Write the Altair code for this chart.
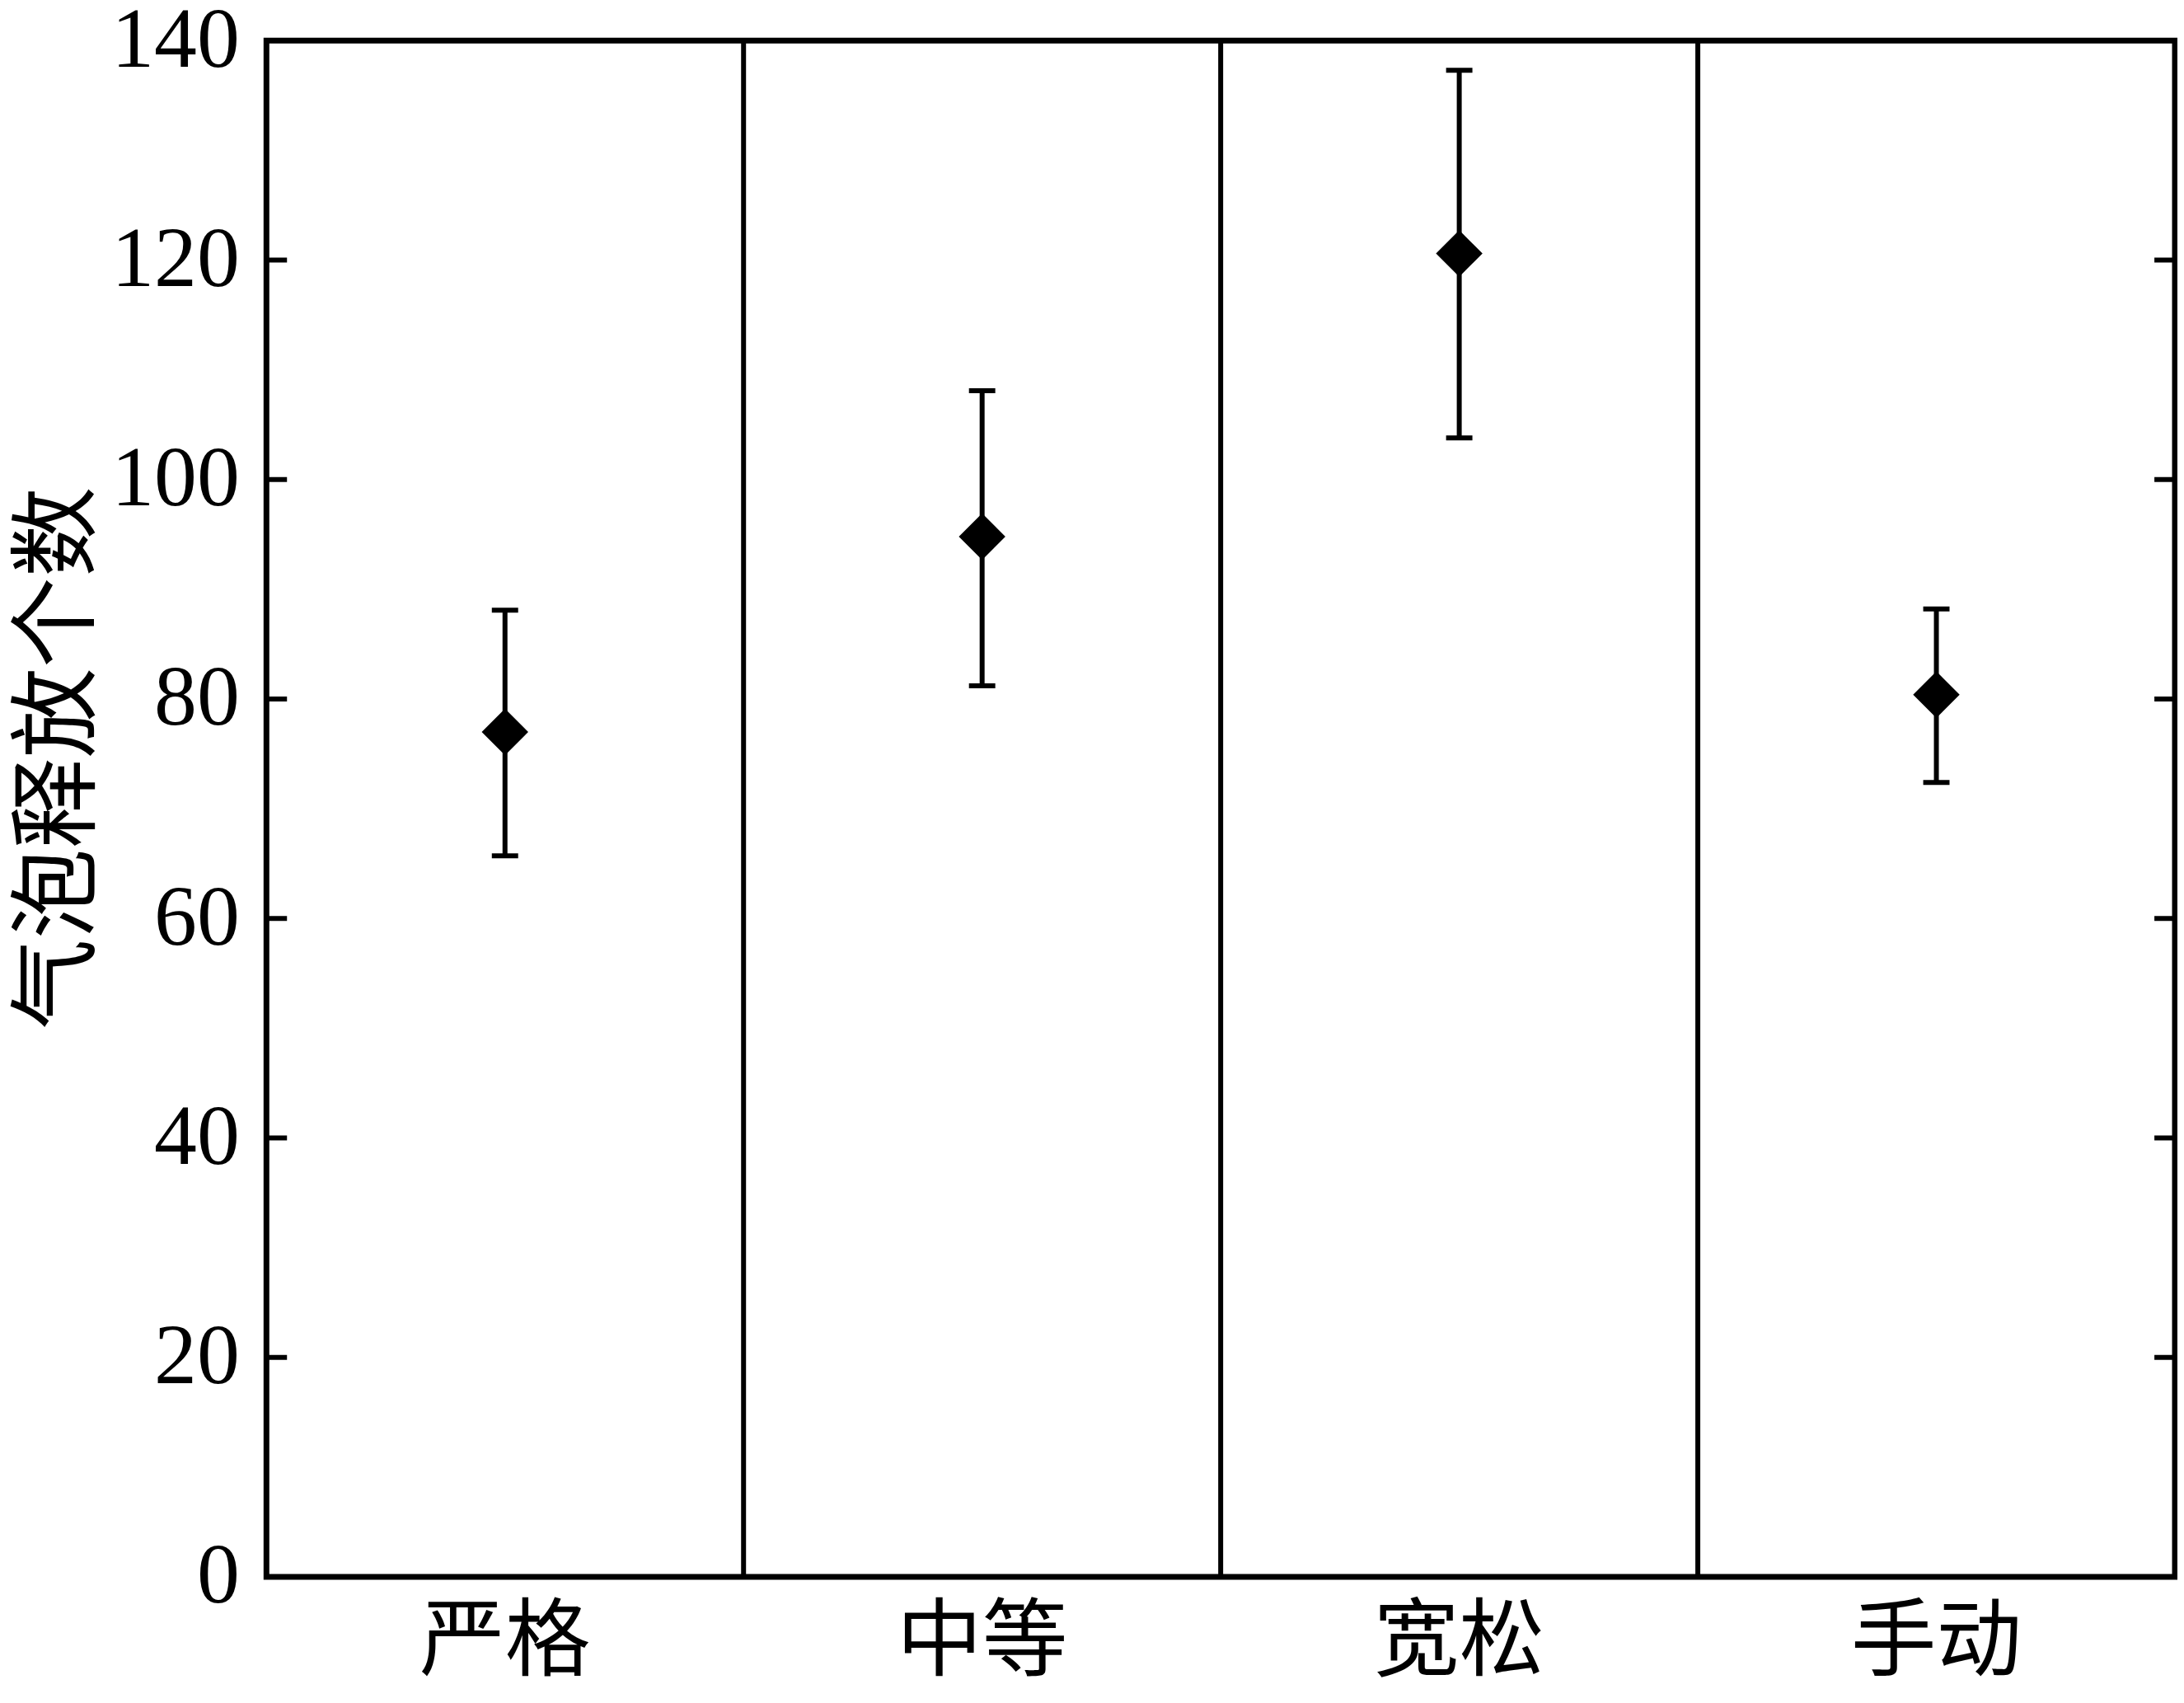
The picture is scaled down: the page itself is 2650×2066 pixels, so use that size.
import altair as alt
import pandas as pd

categories = ["严格", "中等", "宽松", "手动"]
means = [77.0, 94.8, 120.6, 80.4]
upper = [88.1, 108.1, 137.3, 88.2]
lower = [65.7, 81.2, 103.8, 72.4]
y_ticks = [0, 20, 40, 60, 80, 100, 120, 140]
inner_ticks = [20, 40, 60, 80, 100, 120]
y_title = "气泡释放个数"

W, H = 2321, 1868
FONT = "Liberation Serif, Noto Sans CJK SC"

df = pd.DataFrame({"cat": categories, "mean": means, "hi": upper, "lo": lower})
div_df = pd.DataFrame({"cat": categories[1:]})
tick_df = pd.DataFrame({"v": inner_ticks})

xscale = alt.Scale(domain=categories, paddingInner=0, paddingOuter=0)
yscale = alt.Scale(domain=[0, 140], nice=False)

y_axis = alt.Axis(values=y_ticks, ticks=False, domain=False, grid=False,
                  labelPadding=33, labelFont=FONT, labelFontSize=104,
                  labelColor="black", title=y_title, titleFont=FONT,
                  titleFontSize=110, titleFontWeight="normal", titleColor="black",
                  titlePadding=6, titleY=H / 2 - 62)


def xe(**kw):
    return alt.X("cat:N", sort=categories, scale=xscale, axis=None, **kw)


base = alt.Chart(df)

stems = base.mark_rule(color="black", strokeWidth=6).encode(
    x=xe(),
    y=alt.Y("lo:Q", scale=yscale, axis=y_axis),
    y2="hi:Q",
)
caps_hi = base.mark_tick(color="black", size=32, thickness=6, opacity=1).encode(
    x=xe(), y=alt.Y("hi:Q", scale=yscale, axis=y_axis))
caps_lo = base.mark_tick(color="black", size=32, thickness=6, opacity=1).encode(
    x=xe(), y=alt.Y("lo:Q", scale=yscale, axis=y_axis))
points = base.mark_point(shape="diamond", filled=True, size=3200, color="black",
                         opacity=1).encode(
    x=xe(), y=alt.Y("mean:Q", scale=yscale, axis=y_axis))

x_labels = base.mark_text(font=FONT, fontSize=104, color="black", align="center",
                          baseline="top").encode(
    x=xe(), y=alt.value(H + 30), text="cat:N")

dividers = alt.Chart(div_df).mark_rule(color="black", strokeWidth=6).encode(
    x=xe(bandPosition=0))

left_ticks = alt.Chart(tick_df).mark_rule(color="black", strokeWidth=6).encode(
    y=alt.Y("v:Q", scale=yscale, axis=y_axis), x=alt.value(0), x2=alt.value(25))
right_ticks = alt.Chart(tick_df).mark_rule(color="black", strokeWidth=6).encode(
    y=alt.Y("v:Q", scale=yscale, axis=y_axis), x=alt.value(W - 25), x2=alt.value(W))

chart = alt.layer(stems, caps_hi, caps_lo, points, dividers, left_ticks, right_ticks,
                  x_labels).properties(
    width=W, height=H,
    autosize=alt.AutoSizeParams(type="none"),
    padding={"left": 316, "top": 39, "right": 3, "bottom": 140},
    background="white",
).configure_view(stroke="black", strokeWidth=7)

chart.save("out.html", embed_options={"renderer": "svg", "actions": False})
